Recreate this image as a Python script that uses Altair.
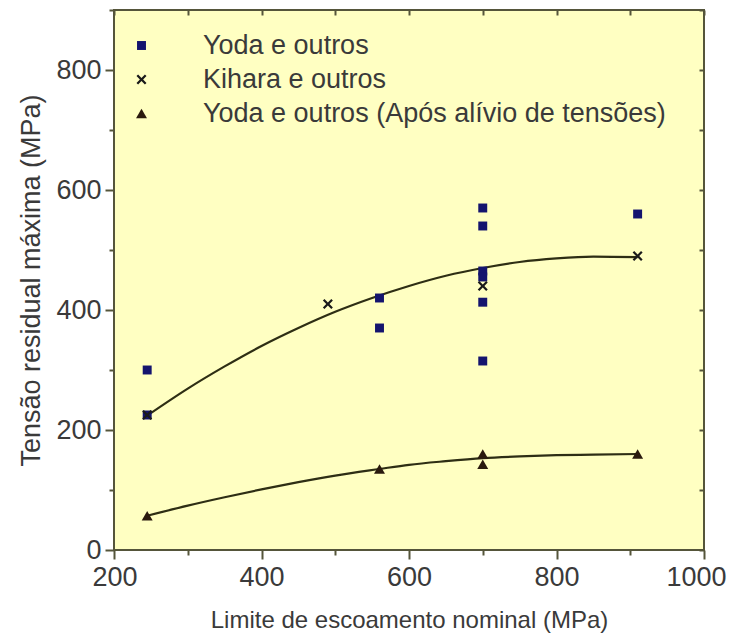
import altair as alt
import pandas as pd

# ---- data ----
yoda_x = [245, 245, 560, 560, 700, 700, 700, 700, 700, 700, 910]
yoda_y = [300, 225, 420, 370, 570, 540, 465, 455, 413, 315, 560]

kihara_x = [245, 490, 700, 910]
kihara_y = [225, 410, 440, 490]

alivio_x = [245, 560, 700, 700, 910]
alivio_y = [57, 135, 160, 143, 160]

upper_curve_x = [245, 300, 350, 400, 450, 500, 550, 600, 650, 700, 750, 800, 850, 910]
upper_curve_y = [224, 269, 306, 340, 370, 397, 420, 440, 457, 470, 480, 486, 489, 488]

lower_curve_x = [245, 300, 350, 400, 450, 500, 560, 600, 650, 700, 750, 800, 850, 910]
lower_curve_y = [57, 74, 88, 101, 113, 124, 135, 142, 148, 153, 156, 158, 159, 160]

series_names = ["Yoda e outros", "Kihara e outros", "Yoda e outros (Após alívio de tensões)"]
series_colors = ["#14146e", "#1a1a1a", "#2a1a0e"]
series_sizes = [80, 120, 130]
x_path = ("M-1,-0.68L-0.68,-1L0,-0.32L0.68,-1L1,-0.68L0.32,0L1,0.68L0.68,1L0,0.32L-0.68,1L-1,0.68L-0.32,0Z")
series_shapes = ["square", x_path, "triangle-up"]

x_ticks = [200, 300, 400, 500, 600, 700, 800, 900, 1000]
y_ticks = [0, 100, 200, 300, 400, 500, 600, 700, 800, 900]

pts = pd.DataFrame(
    [{"x": a, "y": b, "serie": series_names[0]} for a, b in zip(yoda_x, yoda_y)]
    + [{"x": a, "y": b, "serie": series_names[1]} for a, b in zip(kihara_x, kihara_y)]
    + [{"x": a, "y": b, "serie": series_names[2]} for a, b in zip(alivio_x, alivio_y)]
)
curves = pd.DataFrame(
    [{"x": a, "y": b, "curva": "sup"} for a, b in zip(upper_curve_x, upper_curve_y)]
    + [{"x": a, "y": b, "curva": "inf"} for a, b in zip(lower_curve_x, lower_curve_y)]
)

FONT = "Liberation Sans"
TXT = "#3a3a3a"
FRAME = "#55553a"

xs = alt.Scale(domain=[200, 1000], nice=False, zero=False)
ys = alt.Scale(domain=[0, 900], nice=False)

major_x = {"condition": {"test": "datum.value % 200 === 0", "value": 9}, "value": 5}
major_y = {"condition": {"test": "datum.value % 200 === 0", "value": 9}, "value": 5}

line_layer = alt.Chart(curves).mark_line(
    color="#2e2e14", strokeWidth=2.2, interpolate="monotone"
).encode(
    x=alt.X("x:Q", scale=xs, axis=alt.Axis(
        orient="top", values=x_ticks, labels=False, title=None, domain=False,
        tickSize=5, tickWidth=2, tickColor=FRAME, offset=-5, grid=False)),
    y=alt.Y("y:Q", scale=ys, axis=alt.Axis(
        orient="right", values=y_ticks, labels=False, title=None, domain=False,
        tickSize=5, tickWidth=2, tickColor=FRAME, offset=-5, grid=False)),
    detail="curva:N",
)

point_layer = alt.Chart(pts).mark_point(filled=True, opacity=1).encode(
    x=alt.X("x:Q", scale=xs, axis=alt.Axis(
        orient="bottom", values=x_ticks, title="Limite de escoamento nominal (MPa)",
        format="d", labelFlush=True, labelFlushOffset=22, labelOverlap=False,
        labelExpr="datum.value % 200 === 0 ? datum.label : ''",
        domain=False, tickSize=major_x, tickWidth=2, tickColor=FRAME, grid=False,
        labelFontSize=27, labelPadding=5, titleFontSize=24, titlePadding=18)),
    y=alt.Y("y:Q", scale=ys, axis=alt.Axis(
        orient="left", values=y_ticks, title="Tensão residual máxima (MPa)",
        labelFlush=False, labelOverlap=False,
        labelExpr="datum.value % 200 === 0 && datum.value < 900 ? datum.label : ''",
        domain=False, tickSize=major_y, tickWidth=2, tickColor=FRAME, grid=False,
        labelFontSize=27, labelPadding=4, titleFontSize=27, titlePadding=10)),
    color=alt.Color("serie:N", scale=alt.Scale(domain=series_names, range=series_colors),
                    legend=alt.Legend(title=None, orient="none", legendX=14, legendY=22,
                                      labelFontSize=27, labelFont=FONT, labelColor=TXT,
                                      symbolSize=95, labelOffset=48, rowPadding=6,
                                      labelLimit=700, symbolStrokeWidth=0)),
    shape=alt.Shape("serie:N", scale=alt.Scale(domain=series_names, range=series_shapes),
                    legend=alt.Legend(title=None)),
    size=alt.Size("serie:N", scale=alt.Scale(domain=series_names, range=series_sizes),
                  legend=None),
)

chart = alt.layer(line_layer, point_layer).resolve_axis(
    x="independent", y="independent"
).properties(
    width=590, height=540,
    autosize=alt.AutoSizeParams(type="none"),
    padding={"left": 106, "top": 2, "right": 25, "bottom": 83},
    background="white",
).configure_view(
    fill="#ffffc2", stroke=FRAME, strokeWidth=2
).configure_axis(
    labelFont=FONT, titleFont=FONT, labelColor=TXT, titleColor=TXT,
    titleFontWeight="normal"
)

chart.save("out.html", embed_options={"renderer": "svg", "actions": False})
